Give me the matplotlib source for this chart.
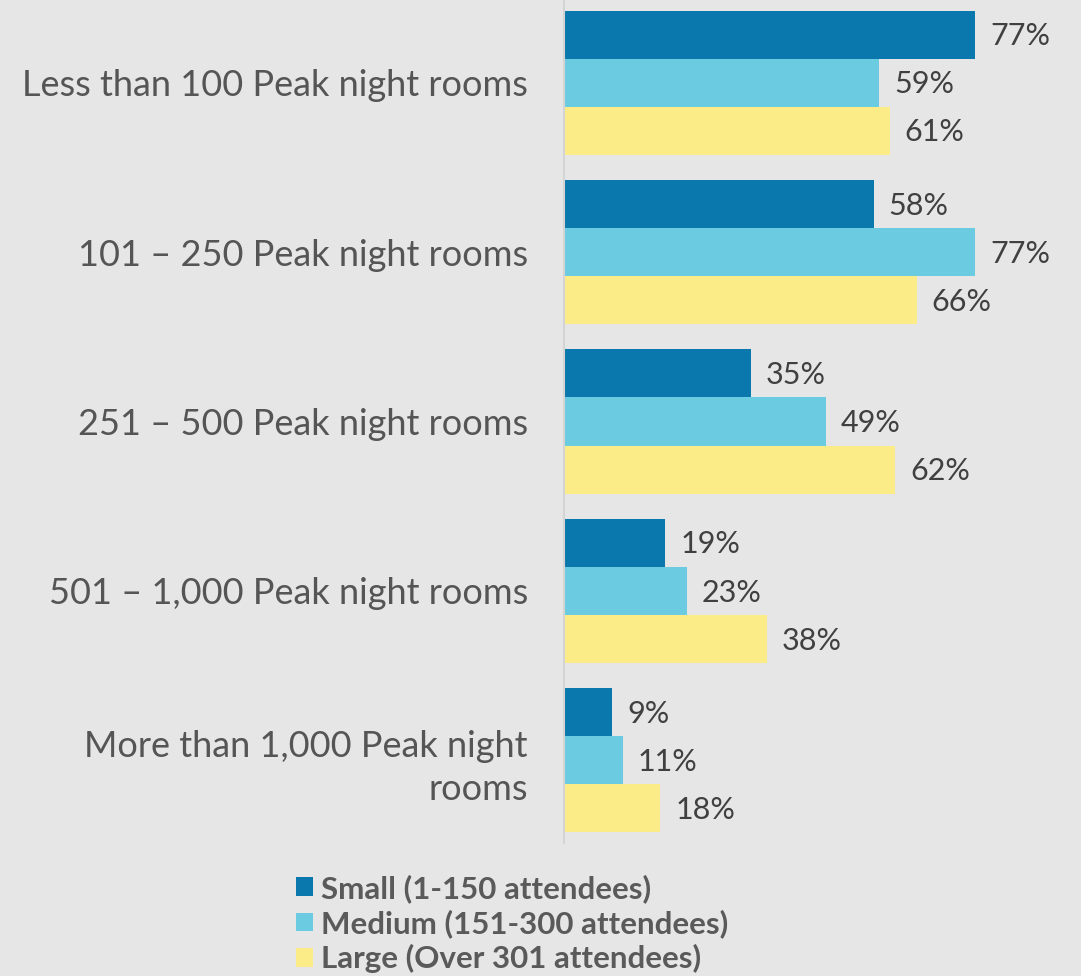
import matplotlib
matplotlib.use("Agg")
import matplotlib.pyplot as plt
from matplotlib.patches import Patch
import numpy as np

categories = ["Less than 100 Peak night rooms", "101 – 250 Peak night rooms",
              "251 – 500 Peak night rooms", "501 – 1,000 Peak night rooms",
              "More than 1,000 Peak night\nrooms"]
series_names = ["Small (1-150 attendees)", "Medium (151-300 attendees)", "Large (Over 301 attendees)"]
small = [77, 58, 35, 19, 9]
medium = [59, 77, 49, 23, 11]
large = [61, 66, 62, 38, 18]
colors = ["#0a77ad", "#6bcbe0", "#fbec87"]

bg = "#e6e6e6"
W, H = 1081, 976
fig = plt.figure(figsize=(W / 100, H / 100), dpi=100, facecolor=bg)
ax = fig.add_axes([564 / W, 1 - 843 / H, (W - 564) / W, 843 / H])
ax.set_facecolor(bg)

y = np.arange(len(categories))
bh = 0.284
for i, (vals, c) in enumerate(zip([small, medium, large], colors)):
    pos = y - bh + i * bh
    ax.barh(pos, vals, height=bh, color=c, edgecolor="none", label=series_names[i])
    for p, v in zip(pos, vals):
        ax.text(v + 2.8, p + 0.01, f"{v}%", va="center", ha="left", fontsize=22,
                color="#404040", family="Lato")

ax.set_xlim(0, 96.8)
ax.set_ylim(4.488, -0.488)
ax.set_yticks(y)
ax.set_yticklabels(categories, fontsize=26, color="#555555", family="Lato",
                   linespacing=1.35)
ax.tick_params(axis="y", length=0, pad=26)
ax.set_xticks([])
for s in ["top", "right", "bottom"]:
    ax.spines[s].set_visible(False)
ax.spines["left"].set_color("#d4d4d4")
ax.spines["left"].set_linewidth(1.5)

handles = [Patch(facecolor=c, edgecolor="none") for c in colors]
fig.legend(handles, series_names, loc="upper left",
           bbox_to_anchor=(296 / W, 1 - 874 / H), frameon=False,
           prop={"family": "Lato", "weight": "bold", "size": 22.5},
           labelcolor="#5a5a5a", handlelength=0.55, handleheight=0.55,
           handletextpad=0.25, labelspacing=0.2, borderaxespad=0,
           borderpad=0)

fig.savefig("out.png", dpi=100, facecolor=bg)
